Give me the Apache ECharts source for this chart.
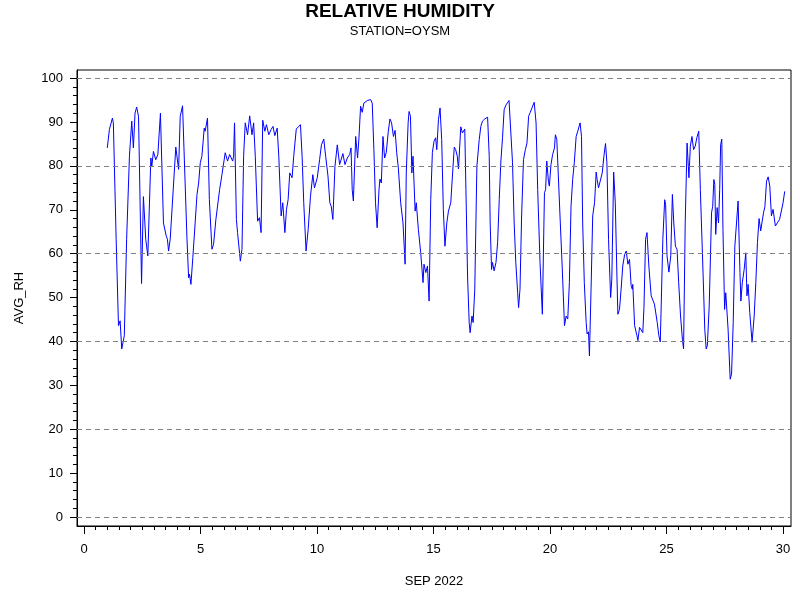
<!DOCTYPE html>
<html>
<head>
<meta charset="utf-8">
<script src="https://cdn.jsdelivr.net/npm/echarts@6/dist/echarts.min.js"></script>
<style>html,body{margin:0;padding:0;background:#fff}#c{width:800px;height:600px}</style>
</head>
<body>
<div id="c"></div>
<script>
const days = [
1.00,1.09,1.22,1.26,1.38,1.48,1.55,1.62,1.73,1.83,1.95,2.05,2.12,2.19,2.26,2.34,2.47,2.55,2.65,2.74,2.87,2.91,2.98,3.08,3.17,3.28,3.41,3.53,3.58,3.63,3.70,3.77,3.94,
4.06,4.13,4.23,4.30,4.42,4.49,4.53,4.59,4.67,4.77,4.85,4.92,4.99,5.06,5.16,5.20,5.30,5.38,5.49,5.56,5.66,5.73,5.82,5.92,6.06,6.16,6.25,6.32,6.38,6.42,6.46,6.54,6.59,6.71,6.78,6.85,6.92,7.02,7.11,7.21,7.28,7.35,7.45,7.53,7.60,7.67,7.76,7.83,7.93,
8.03,8.11,8.19,8.29,8.36,8.46,8.53,8.62,8.69,8.76,8.83,8.93,9.00,9.11,9.19,9.29,9.36,9.43,9.53,9.62,9.72,9.82,9.89,10.01,10.11,10.19,10.29,10.37,10.47,10.55,10.61,10.68,10.77,10.87,10.97,11.01,11.11,11.20,11.30,11.40,11.46,11.51,11.56,11.66,11.70,11.74,11.80,11.87,11.94,12.01,12.09,12.16,12.30,12.37,
12.44,12.51,12.58,12.66,12.70,12.76,12.83,12.90,12.97,13.06,13.13,13.20,13.28,13.35,13.42,13.49,13.59,13.69,13.78,13.83,13.91,13.95,14.01,14.07,14.12,14.21,14.26,14.35,14.45,14.55,14.59,14.67,14.74,14.81,14.88,14.95,15.02,15.09,15.14,15.21,15.28,15.35,15.42,15.49,15.57,15.64,15.74,15.81,15.89,15.95,16.02,16.07,16.17,16.24,16.29,16.34,
16.39,16.46,16.53,16.57,16.65,16.70,16.77,16.86,16.96,17.03,17.10,17.20,17.32,17.39,17.43,17.49,17.53,17.60,17.68,17.75,17.82,17.89,17.96,18.03,18.11,18.18,18.24,18.32,18.39,18.46,18.53,18.61,18.65,18.71,18.78,18.86,18.94,19.01,19.08,19.15,19.22,19.32,19.40,19.47,19.57,19.67,19.76,19.81,19.86,19.93,19.97,20.04,20.11,20.19,20.23,20.29,20.37,
20.44,20.52,20.62,20.69,20.76,20.83,20.90,20.97,21.04,21.12,21.19,21.29,21.35,21.40,21.47,21.55,21.59,21.65,21.69,21.76,21.83,21.91,21.98,22.02,22.08,22.15,22.24,22.31,22.38,22.44,22.51,22.60,22.65,22.73,22.80,22.87,22.91,22.98,23.05,23.12,23.20,23.27,23.34,23.41,23.48,23.53,23.55,23.63,23.73,23.77,23.84,23.91,23.98,24.03,24.10,24.16,24.24,24.34,24.41,24.48,24.55,
24.60,24.67,24.73,24.77,24.84,24.92,24.96,25.02,25.10,25.18,25.25,25.31,25.38,25.45,25.52,25.60,25.68,25.73,25.80,25.88,25.92,25.96,26.02,26.09,26.16,26.23,26.30,26.38,26.45,26.57,26.64,26.70,26.75,26.83,26.93,26.98,27.03,27.07,27.11,27.17,27.23,27.28,27.32,27.37,27.42,27.49,27.54,27.58,27.64,27.73,27.79,27.86,27.93,27.99,28.07,28.15,28.19,28.25,28.33,28.40,28.45,28.50,28.57,
28.67,28.76,28.83,28.90,28.97,29.04,29.10,29.16,29.22,29.29,29.36,29.43,29.50,29.57,29.67,29.75,29.85,29.93,30.00,30.07
];
const rh = [
84.1,88.3,90.9,89.8,63.3,43.6,44.7,38.3,41.3,63.3,82.2,90.2,84.1,92.0,93.4,91.3,53.2,73.0,63.3,59.5,81.8,79.9,83.3,81.4,82.6,92.0,67.0,64.0,63.3,60.6,63.3,63.6,84.3,
79.2,91.3,93.7,93.6,63.3,54.5,55.3,53.0,59.1,67.0,73.5,76.1,80.7,82.2,88.6,87.9,90.9,72.3,61.0,62.1,67.8,67.8,74.6,78.0,83.0,81.1,82.6,82.2,81.1,82.2,89.8,67.8,64.8,58.3,61.0,82.2,89.8,87.1,91.4,87.1,89.8,82.2,67.4,68.2,64.8,90.4,87.9,89.4,87.1,
88.3,89.0,86.9,88.6,82.2,68.6,71.6,64.8,70.1,72.3,78.4,77.3,82.2,88.4,88.3,89.4,82.2,71.6,60.6,65.5,73.1,78.0,75.0,77.3,81.4,84.8,86.1,82.2,77.7,71.6,70.8,67.8,79.9,84.8,80.3,80.1,82.8,80.3,81.8,82.6,84.1,74.6,72.0,86.7,87.1,81.8,86.4,93.6,92.2,94.3,94.2,94.9,95.1,94.3,
83.7,71.6,65.9,74.6,77.0,76.1,86.7,81.8,83.0,87.9,90.7,89.8,86.7,88.1,83.0,79.5,71.6,67.0,57.6,78.4,89.8,92.4,91.3,78.4,82.2,69.7,71.6,65.5,60.2,53.4,57.6,55.7,57.2,49.2,72.3,83.0,85.6,86.4,83.7,90.5,93.2,86.0,70.1,61.7,67.0,69.7,71.6,77.7,84.3,83.7,82.2,79.3,88.9,87.5,87.1,88.4,
74.6,54.9,44.3,42.0,45.8,44.3,51.9,79.9,86.0,89.0,90.2,90.7,91.1,82.2,67.0,56.4,58.0,56.1,58.0,62.5,72.3,81.1,86.4,92.8,93.9,94.3,94.9,94.7,80.7,67.0,58.0,51.1,47.7,51.9,68.6,81.4,83.7,85.2,91.3,92.2,92.2,94.5,89.8,74.6,58.0,46.2,73.9,74.6,81.1,76.5,75.4,80.3,82.6,84.1,87.1,86.0,85.6,
67.0,57.2,43.6,45.8,45.1,53.4,70.8,76.9,80.7,86.7,87.9,89.8,86.7,67.0,53.4,44.3,41.7,42.2,36.7,51.9,68.6,71.6,78.6,76.9,75.0,74.6,78.4,82.2,85.1,80.7,63.3,50.0,54.2,78.6,71.6,54.9,46.2,47.3,51.9,57.2,59.8,60.6,57.6,58.7,52.7,51.9,53.0,43.6,41.3,40.2,43.2,43.4,42.0,47.7,63.3,64.8,57.2,50.4,50.8,48.5,48.1,
44.3,41.3,39.9,48.1,63.3,72.3,71.2,59.5,55.8,59.5,73.5,67.0,61.7,61.0,53.4,45.8,40.5,38.3,67.0,85.2,85.6,77.3,84.5,86.7,83.7,84.5,86.4,87.9,74.6,54.9,42.8,38.3,39.0,48.1,69.3,70.8,76.9,75.8,64.4,70.5,67.0,74.6,84.8,86.1,65.5,47.3,51.1,50.8,42.8,31.4,32.6,44.3,61.7,61.4,72.0,55.7,49.2,53.4,56.4,60.2,50.4,53.0,46.6,
39.8,45.8,53.4,62.5,68.0,65.2,64.8,69.3,70.7,76.5,77.5,75.4,68.6,70.1,66.3,67.0,67.8,68.2,71.6,74.2
];
const xMajor = [0,5,10,15,20,25,30];
const yMajor = [0,10,20,30,40,50,60,70,80,90,100];
const gridVals = [0,20,40,60,80,100];

const xMinor = [];
for (let v = 0.5; v < 30; v += 0.5) if (v % 5 !== 0) xMinor.push(v);
const yMinor = [];
for (let v = 2; v < 100; v += 2) if (v % 10 !== 0) yMinor.push(v);

const FONT = "'Liberation Sans', Arial, sans-serif";
const chart = echarts.init(document.getElementById('c'), null, {renderer: 'canvas'});
const XMIN = -0.3, XMAX = 30.34, YMIN = -2.05, YMAX = 101.85;
chart.setOption({
  animation: false,
  backgroundColor: '#fff',
  title: [
    {text: 'RELATIVE HUMIDITY', left: 'center', top: 2, padding: 0,
     textStyle: {fontFamily: FONT, fontSize: 19, fontWeight: 'bold', color: '#000'}},
    {text: 'STATION=OYSM', left: 'center', top: 25, padding: 0,
     textStyle: {fontFamily: FONT, fontSize: 13, fontWeight: 'normal', color: '#000'}}
  ],
  grid: {left: 77, right: 9, top: 70, bottom: 74, show: true, borderColor: '#000', borderWidth: 1, containLabel: false},
  xAxis: [
    {type: 'value', min: XMIN, max: XMAX, position: 'bottom',
     name: 'SEP 2022', nameLocation: 'middle', nameGap: 49,
     nameTextStyle: {fontFamily: FONT, fontSize: 13, color: '#000'},
     axisLine: {show: true, onZero: false, lineStyle: {color: '#000', width: 1}},
     axisTick: {show: true, length: 8, customValues: xMajor, lineStyle: {color: '#000'}},
     axisLabel: {show: true, customValues: xMajor, margin: 17, fontFamily: FONT, fontSize: 13, color: '#000'},
     splitLine: {show: false}},
    {type: 'value', min: XMIN, max: XMAX, position: 'bottom',
     axisLine: {show: false, onZero: false},
     axisTick: {show: true, length: 4, customValues: xMinor, lineStyle: {color: '#000'}},
     axisLabel: {show: false},
     splitLine: {show: false}}
  ],
  yAxis: [
    {type: 'value', min: YMIN, max: YMAX, position: 'left',
     name: 'AVG_RH', nameLocation: 'middle', nameGap: 51, nameRotate: 90,
     nameTextStyle: {fontFamily: FONT, fontSize: 13, color: '#000'},
     axisLine: {show: true, onZero: false, lineStyle: {color: '#000', width: 1}},
     axisTick: {show: true, length: 7, customValues: yMajor, lineStyle: {color: '#000'}},
     axisLabel: {show: true, customValues: yMajor, margin: 14, fontFamily: FONT, fontSize: 13, color: '#000'},
     splitLine: {show: false}},
    {type: 'value', min: YMIN, max: YMAX, position: 'left',
     axisLine: {show: false, onZero: false},
     axisTick: {show: true, length: 4, customValues: yMinor, lineStyle: {color: '#000'}},
     axisLabel: {show: false},
     splitLine: {show: false}}
  ],
  series: [{
    type: 'line',
    xAxisIndex: 0, yAxisIndex: 0,
    data: days.map((d, i) => [d, rh[i]]),
    showSymbol: false,
    symbol: 'none',
    lineStyle: {color: '#0000ff', width: 1},
    itemStyle: {color: '#0000ff'},
    z: 3,
    markLine: {
      silent: true, symbol: 'none', animation: false,
      label: {show: false},
      lineStyle: {color: '#808080', type: [5, 4], width: 1},
      data: gridVals.map(v => ({yAxis: v}))
    }
  }]
});
</script>
</body>
</html>
